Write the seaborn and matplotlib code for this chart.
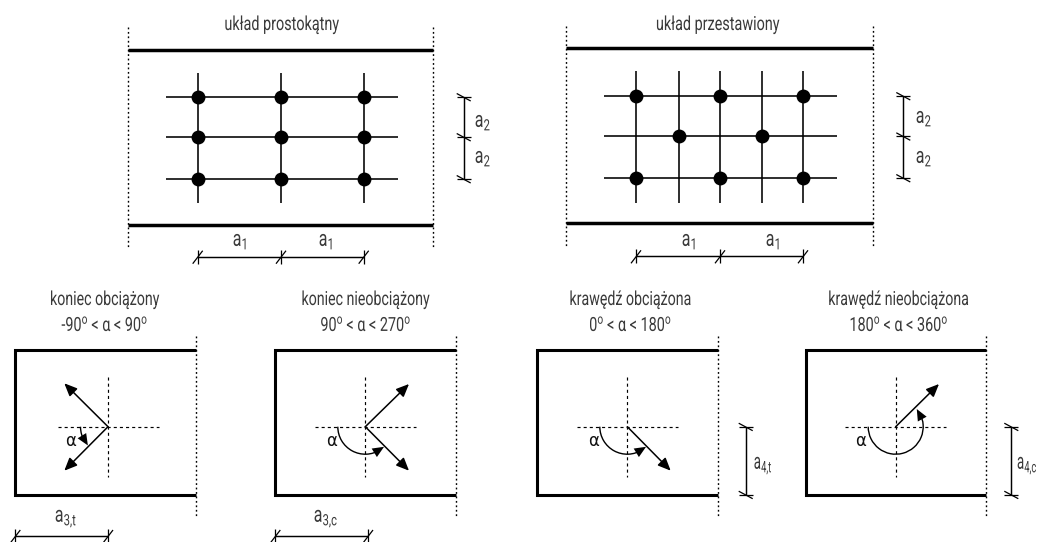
import numpy as np
import matplotlib
matplotlib.use("Agg")
import matplotlib.pyplot as plt
from matplotlib.patches import Arc
from matplotlib.patheffects import AbstractPathEffect
from matplotlib.transforms import Affine2D
import seaborn as sns

# ---- top panels
top_titles = ["układ prostokątny", "układ przestawiony"]
top_title_x = [282, 718]
top_dot_x = [[128, 433], [566, 873]]
top_dot_y = [[27, 247], [26, 246]]
top_thick_y = [[50, 224.7], [48.3, 223]]
rect_cols = [197.7, 281, 363.7]
rect_rows = [97, 137, 179]
stag_cols = [636, 678.7, 720, 762, 803]
stag_rows = [96, 136.3, 178]
stag_pts_x = [636, 720, 803, 678.7, 762, 636, 720, 803]
stag_pts_y = [96, 96, 96, 136.3, 136.3, 178, 178, 178]
rect_h_ext = [166, 397.7]
rect_v_ext = [73, 203]
stag_h_ext = [604, 837]
stag_v_ext = [71, 202.7]
a1_dim_y = [256.7, 256.3]
a1_x = [[240, 326], [689, 773]]
a1_label_y = 241
a2_dim_x = [463.7, 903.3]
a2_lab_x = [483, 924]
a2_lab_y = [[122, 158], [118, 158]]

# ---- bottom panels
bot_titles = ["koniec obciążony", "koniec nieobciążony", "krawędź obciążona", "krawędź nieobciążona"]
bot_ranges = ["-90$^{o}$ < α < 90$^{o}$", "90$^{o}$ < α < 270$^{o}$",
              "0$^{o}$ < α < 180$^{o}$", "180$^{o}$ < α < 360$^{o}$"]
bot_title_x = [105, 366, 630.7, 899]
bot_left = [15.3, 275.3, 537.3, 806]
bot_right = [196, 456.3, 718, 986.3]
bot_top, bot_bottom = 350.3, 494.7
bot_dot_y = [336, 518]
centre_x = [108, 365.3, 627.3, 895.7]
centre_y = 426.7
h_half, v_half = 50.5, 50
arrow_tips = [[(64.3, 383.3), (64.3, 470.7)], [(409, 384), (409, 470.7)],
              [(670.7, 470.7)], [(939, 384)]]
arc_end_deg = [137, 47, 47, -40]      # angle measured on screen, 180 = left, 90 = down
arc_radius = 27.5
alpha_x = [70.7, 332, 593.3, 861]
alpha_y = 440.7
a3_labels = ["$a_{3{,}t}$", "$a_{3{,}c}$"]
a3_dim_x = [[15.3, 108], [275.3, 368]]
a3_lab_x = [66, 326]
a3_dim_y, a3_lab_y = 536, 519
a4_labels = ["$a_{4{,}t}$", "$a_{4{,}c}$"]
a4_dim_x = [745.7, 1011.3]
a4_lab_right = [773, 1038]
a4_lab_y = 466

sns.set_theme(style="white")
plt.rcParams["font.family"] = ["Roboto", "DejaVu Sans"]
plt.rcParams["mathtext.fontset"] = "custom"
plt.rcParams["mathtext.rm"] = "Roboto"
plt.rcParams["mathtext.it"] = "Roboto"
plt.rcParams["mathtext.default"] = "rm"

fig = plt.figure(figsize=(10.4, 5.42), dpi=100, facecolor="white")
ax = fig.add_axes([0, 0, 1, 1])

THIN, THICK = 1.15, 2.5
INK = "#111111"
TXT = "#3a3a3a"


class Condense(AbstractPathEffect):
    """Narrows a real text horizontally, keeping its centre or its right edge in place."""

    def __init__(self, sx, anchor="center"):
        super().__init__()
        self.sx, self.anchor = sx, anchor

    def draw_path(self, renderer, gc, tpath, affine, rgbFace=None):
        ext = tpath.get_extents()
        x0 = ext.x1 if self.anchor == "right" else (ext.x0 + ext.x1) / 2
        squeeze = Affine2D().translate(-x0, 0).scale(self.sx, 1).translate(x0, 0)
        renderer.draw_path(gc, tpath, squeeze + affine, rgbFace)


def label(x, y, s, size, sx=0.72, ha="center", anchor="center"):
    t = ax.text(x, y, s, ha=ha, va="center", fontsize=size, color=TXT)
    t.set_path_effects([Condense(sx, anchor)])
    return t


def seg(xs, ys, lw=THIN, ls="-"):
    sns.lineplot(x=xs, y=ys, ax=ax, estimator=None, sort=False, color="black",
                 linewidth=lw, linestyle=ls, legend=False)
    ax.lines[-1].set_solid_capstyle("butt")
    ax.lines[-1].set_dash_capstyle("butt")


DOTTED = (0, (1.3, 1.9))
DASHED = (0, (2.6, 2.6))
HEAD = "-|>,head_length=0.55,head_width=0.24"


def hdim(x0, x1, y):
    seg([x0, x1], [y, y], 1.05)


def htick(x, y):
    seg([x, x], [y - 7, y + 7], 0.9)
    seg([x - 5, x + 5], [y + 7, y - 6], 0.9)


def vtick(x, y):
    seg([x - 7, x + 7], [y, y], 0.9)
    seg([x - 7, x + 7], [y - 3.5, y + 4], 0.9)


# top panels
for i in range(2):
    for x in top_dot_x[i]:
        seg([x, x], top_dot_y[i], 1.0, DOTTED)
    for y in top_thick_y[i]:
        seg(top_dot_x[i], [y, y], THICK)
    label(top_title_x[i], 25, top_titles[i], 14, sx=0.74)

for r in rect_rows:
    seg(rect_h_ext, [r, r])
for c in rect_cols:
    seg([c, c], rect_v_ext)
for r in stag_rows:
    seg(stag_h_ext, [r, r])
for c in stag_cols:
    seg([c, c], stag_v_ext)

grid_x = np.repeat(rect_cols, len(rect_rows))
grid_y = np.tile(rect_rows, len(rect_cols))
sns.scatterplot(x=grid_x, y=grid_y, ax=ax, s=100, color="black", linewidth=0, legend=False, zorder=5)
sns.scatterplot(x=stag_pts_x, y=stag_pts_y, ax=ax, s=100, color="black", linewidth=0, legend=False, zorder=5)

for i, cols in enumerate([rect_cols, [stag_cols[0], stag_cols[2], stag_cols[4]]]):
    y = a1_dim_y[i]
    hdim(cols[0], cols[-1], y)
    for c in cols:
        htick(c, y)
    for lx in a1_x[i]:
        label(lx, a1_label_y, "$a_{1}$", 16)

for i, rows in enumerate([rect_rows, stag_rows]):
    x = a2_dim_x[i]
    seg([x, x], [rows[0], rows[-1]], 1.05)
    for r in rows:
        vtick(x, r)
    for ly in a2_lab_y[i]:
        label(a2_lab_x[i], ly, "$a_{2}$", 16)

# bottom panels
for i in range(4):
    cx = centre_x[i]
    seg([bot_right[i], bot_left[i], bot_left[i], bot_right[i]],
        [bot_top, bot_top, bot_bottom, bot_bottom], 2.2)
    ax.lines[-1].set_solid_joinstyle("miter")
    seg([bot_right[i], bot_right[i]], bot_dot_y, 1.0, DOTTED)
    seg([cx - h_half, cx + h_half], [centre_y, centre_y], 0.85, DASHED)
    seg([cx, cx], [centre_y - v_half, centre_y + v_half], 0.85, DASHED)
    for tip in arrow_tips[i]:
        ax.annotate("", xy=tip, xytext=(cx, centre_y),
                    arrowprops=dict(arrowstyle=HEAD, mutation_scale=14,
                                    shrinkA=0, shrinkB=0, lw=1.1, color="black"))
    label(bot_title_x[i], 300, bot_titles[i], 14, sx=0.73)
    label(bot_title_x[i], 325, bot_ranges[i], 14, sx=0.74)
    ax.text(alpha_x[i], alpha_y, "α", ha="center", va="center", fontsize=12, color=INK,
            family="DejaVu Sans")
    # arc sweeps from the left dashed line, through the lower side, to its arrowhead
    end = arc_end_deg[i]
    ax.add_patch(Arc((cx, centre_y), 2 * arc_radius, 2 * arc_radius, theta1=end + 10, theta2=180,
                     lw=1.0, color="black"))
    te, tb = np.radians(end), np.radians(end + 23)
    tip = np.array([cx + arc_radius * np.cos(te), centre_y + arc_radius * np.sin(te)])
    base = np.array([cx + arc_radius * np.cos(tb), centre_y + arc_radius * np.sin(tb)])
    tail = tip - (tip - base) / np.linalg.norm(tip - base) * 25
    ax.annotate("", xy=tip, xytext=tail,
                arrowprops=dict(arrowstyle=HEAD, mutation_scale=15,
                                shrinkA=0, shrinkB=0, lw=0, color="black"))

for i in range(2):
    x0, x1 = a3_dim_x[i]
    hdim(x0, x1, a3_dim_y)
    htick(x0, a3_dim_y)
    htick(x1, a3_dim_y)
    label(a3_lab_x[i], a3_lab_y, a3_labels[i], 16)
    x = a4_dim_x[i]
    seg([x, x], [centre_y, bot_bottom], 1.05)
    vtick(x, centre_y)
    vtick(x, bot_bottom)
    label(a4_lab_right[i], a4_lab_y, a4_labels[i], 16, sx=0.6, ha="right", anchor="right")

ax.set_xlim(0, 1040)
ax.set_ylim(542, 0)
ax.axis("off")
fig.savefig("out.png", dpi=100, facecolor="white")
